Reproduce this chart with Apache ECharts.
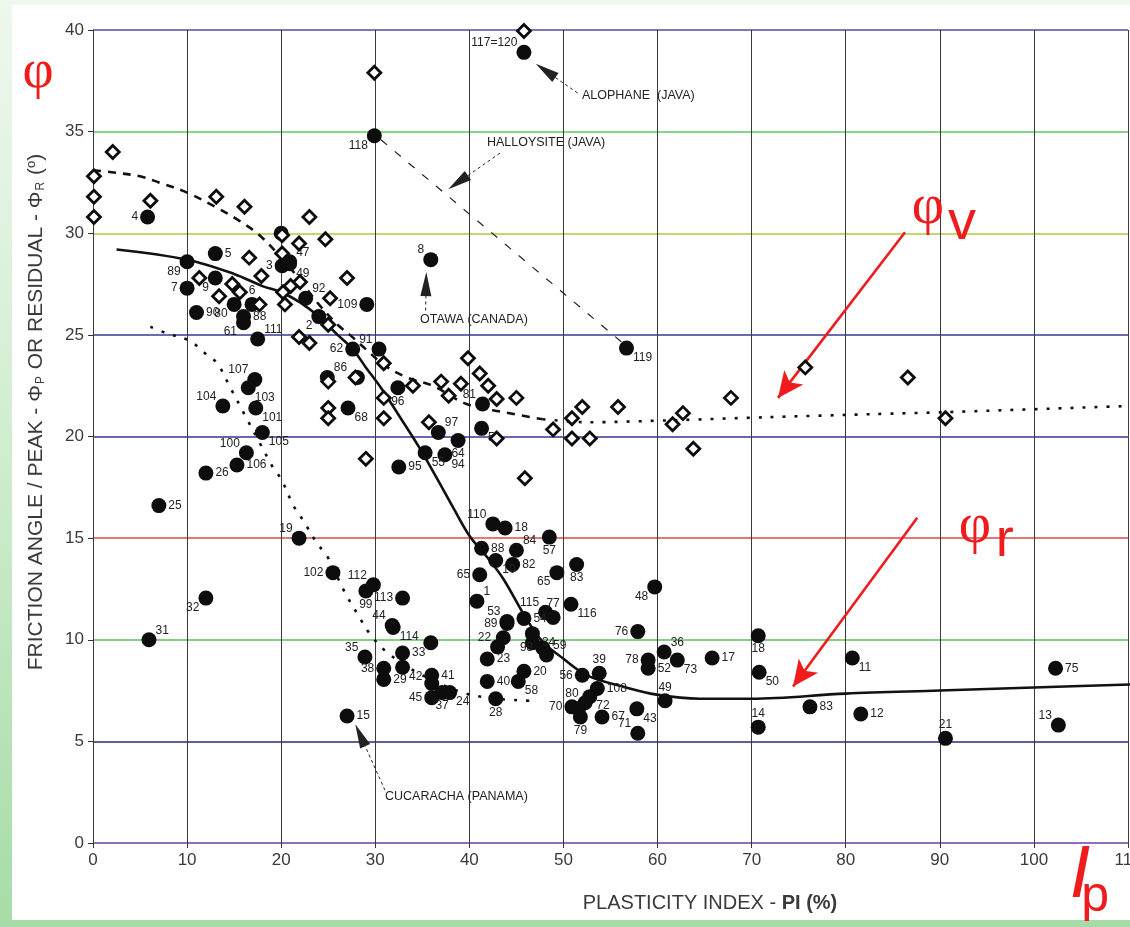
<!DOCTYPE html>
<html><head><meta charset="utf-8">
<script src="https://cdn.jsdelivr.net/npm/echarts@6/dist/echarts.min.js"></script>
<style>
html,body{margin:0;padding:0;}
#bg{position:absolute;left:0;top:0;width:1130px;height:927px;background:linear-gradient(to bottom,#eef8ee 0%,#d2eed2 45%,#a6dca6 100%);overflow:hidden;}
#panel{position:absolute;left:12px;top:5px;width:1118px;height:915px;background:#fff;}
#chart{position:absolute;left:0;top:0;width:1130px;height:927px;}
</style></head><body>
<div id="bg"><div id="panel"></div><div id="chart"></div></div>
<script>
// ---------- DATA ----------
const xTicks = [0,10,20,30,40,50,60,70,80,90,100,110];
const yTicks = [0,5,10,15,20,25,30,35,40];

// residual friction angle (filled circles): PI, phi, sample number
const resPI  = [5.8,10.0,13.0,10.0,13.0,11.0,15.0,16.9,16.0,16.0,17.5,20.1,20.9,20.0,20.9,22.6,24.0,29.1,27.6,30.4,
  17.2,16.5,13.8,17.3,18.0,24.9,28.1,27.1,16.3,15.3,12.0,7.0,21.9,25.5,29.8,29.0,32.9,12.0,5.95,31.9,
  31.8,32.9,28.9,30.9,30.9,32.9,35.9,36.0,36.0,36.0,37.1,37.9,27.0,42.5,43.8,48.5,41.3,45.0,42.8,44.6,
  41.1,49.3,51.4,40.8,48.1,48.9,50.8,45.8,44.0,44.0,46.7,46.7,43.6,43.0,41.9,47.8,48.2,45.8,45.2,41.9,
  42.8,52.0,53.8,53.6,52.8,52.3,50.9,51.6,51.8,54.1,57.8,57.9,59.7,57.9,59.0,59.0,60.7,62.1,60.8,65.8,
  70.7,70.8,70.7,76.2,80.7,81.6,90.6,102.3,102.6,45.8,29.9,35.9,56.7,41.4,41.3,38.8,36.7,35.3,37.4,32.5,32.4];
const resPhi = [30.8,28.6,29.0,27.3,27.8,26.1,26.5,26.5,25.9,25.6,24.8,28.4,28.6,30.0,28.5,26.8,25.9,26.5,24.3,24.3,
  22.8,22.4,21.5,21.4,20.2,22.9,22.9,21.4,19.2,18.6,18.2,16.6,15.0,13.3,12.7,12.4,12.05,12.05,10.0,10.6,
  10.7,9.35,9.15,8.6,8.05,8.65,9.85,8.25,7.85,7.15,7.4,7.4,6.25,15.7,15.5,15.05,14.5,14.4,13.9,13.7,
  13.2,13.3,13.7,11.9,11.35,11.1,11.75,11.05,10.8,10.9,10.3,9.85,10.1,9.65,9.05,9.6,9.25,8.45,7.95,7.95,
  7.1,8.25,8.35,7.6,7.2,6.9,6.7,6.6,6.2,6.2,6.6,5.4,12.6,10.4,9.0,8.6,9.4,9.0,7.0,9.1,
  10.2,8.4,5.7,6.7,9.1,6.35,5.15,8.6,5.8,38.9,34.8,28.7,24.35,21.6,20.4,19.8,20.2,19.2,19.1,18.5,22.4];
const resName = ['4','89','5','7','9','90','80','6','88','61','111','3','47','','49','92','2','109','62','91',
  '107','103','104','101','105','86','','68','100','106','26','25','19','102','112','99','113','32','31','114',
  '44','33','35','38','29','42','','41','','45','37','24','15','110','18','57','88','84','10','82',
  '65','65','83','1','115','77','116','54','89','53','','34','','22','23','98','59','20','58','40',
  '28','56','39','108','72','80','70','','79','67','43','71','48','76','78','52','36','73','49','17',
  '18','50','14','83','11','12','21','75','13','117=120','118','8','119','81','51','64','97','55','94','95','96'];

// peak friction angle (open diamonds): PI, phi
const peakPI  = [0.1,0.1,0.1,2.1,6.1,13.1,16.1,20.1,23.0,24.7,21.9,16.6,20.1,17.9,11.3,13.4,14.8,15.6,17.7,20.4,
  20.2,21.0,22.0,27.0,25.2,29.9,25.0,21.9,23.0,30.9,25.0,27.9,30.9,25.0,25.0,30.9,29.0,34.0,37.0,37.8,
  39.1,35.7,39.85,41.1,42.0,42.9,45.0,42.9,45.9,48.9,50.9,52.0,50.9,52.8,55.8,61.6,62.7,63.8,67.8,75.7,
  86.6,90.6,45.8];
const peakPhi = [32.8,31.8,30.8,34.0,31.6,31.8,31.3,29.9,30.8,29.7,29.5,28.8,29.0,27.9,27.8,26.9,27.5,27.1,26.5,26.5,
  27.1,27.4,27.6,27.8,26.8,37.9,25.5,24.9,24.6,23.6,22.7,22.9,21.9,21.4,20.9,20.9,18.9,22.5,22.7,22.0,
  22.6,20.7,23.85,23.1,22.5,21.85,21.9,19.9,17.95,20.35,20.9,21.45,19.9,19.9,21.45,20.6,21.15,19.4,21.9,23.4,
  22.9,20.9,39.95];

// trend curves [PI, phi]
const residualCurve = [[2.5,29.2],[10,28.7],[15,28.0],[18,27.4],[20,27.1],[22,26.6],[24,25.9],[26,25.0],[27.6,24.3],
  [29,23.4],[30.6,22.4],[32.7,20.9],[34.75,19.4],[36.6,17.9],[38.4,16.4],[40.1,15.05],[42,14.0],[43.6,13.0],
  [46.1,11.0],[47.8,9.9],[49.9,9.1],[52.5,8.25],[56.3,7.7],[59.9,7.3],[64.5,7.1],[70,7.1],[80,7.35],[90,7.5],[100,7.65],[110.5,7.8]];
const peakCurveDashed = [[0,33.1],[2,33.0],[5,32.8],[7,32.5],[10,32.0],[13,31.3],[15.6,30.6],[17.7,29.9],[20,28.8],
  [22,27.7],[24,26.5],[26,25.5],[27.3,25.0],[29.1,24.25],[31,23.5],[33.4,22.9],[36.1,22.5],[39.7,21.6],[43.6,21.2],[47.8,20.85]];
const peakCurveDotted = [[47.8,20.85],[52.5,20.7],[61.6,20.8],[71.6,20.95],[82.9,21.1],[90.7,21.2],[110,21.5]];
const lowerCurve = [[6.1,25.4],[7.7,25.1],[10.3,24.7],[11.9,24.1],[13.2,23.6],[14.6,22.4],[16.2,21.0],[17.7,19.7],
  [19.1,18.5],[20,17.9],[21.3,16.6],[22.3,15.9],[23.8,14.75],[24.9,14.1],[26.8,12.3],[28.2,11.2],[29.4,10.3],
  [31.2,9.4],[34.4,8.4],[39.3,7.4],[42.9,7.1],[46.4,7.0]];
const halloysiteLine = [[30.6,34.6],[56.3,24.6]];

// annotation texts
const noteText = ['ALOPHANE  (JAVA)','HALLOYSITE (JAVA)','OTAWA (CANADA)','CUCARACHA (PANAMA)'];
const noteAt   = [[51.97,36.79],[41.87,34.48],[34.75,25.73],[31.03,2.31]];
// black pointer arrows [from, to]
const blackArrows = [[[51.5,36.9],[48.1,38.0]],[[43.25,33.94],[38.8,32.5]],[[35.35,26.2],[35.4,27.5]],[[31.03,2.6],[28.4,5.3]]];
// red pointer arrows
const redArrows = [[[86.3,30.05],[72.8,21.9]],[[87.6,16.0],[74.4,7.7]]];

// ---------- LABEL PLACEMENT ----------
const resSide = ['l','bl','r','l','bl','r','bl','t','r','bl','tr','l','tr','','br','tr','bl','l','l','tl',
  'tl','br','tl','br','br','tr','','br','tl','r','r','r','tl','l','tl','b','l','bl','tr','br',
  'tl','r','tl','l','r','br','','r','','l','b','br','r','tl','r','b','r','tr','br','r',
  'l','bl','b','tr','tl','t','br','r','l','tl','','r','','tl','r','l','tr','r','br','r',
  'b','l','t','r','br','tl','l','','b','r','br','tl','bl','l','l','r','tr','br','t','r',
  'b','br','t','r','br','r','t','r','tl','tl','bl','tl','br','tl','br','b','tr','br','br','r','b'];
function sideCfg(s){
  if(!s) return {show:false};
  const m = {
    r:{position:'right',distance:2},
    l:{position:'left',distance:2},
    t:{position:'top',distance:0},
    b:{position:'bottom',distance:0},
    tr:{position:[14,4],align:'left',verticalAlign:'bottom'},
    tl:{position:[1,4],align:'right',verticalAlign:'bottom'},
    br:{position:[14,11],align:'left',verticalAlign:'top'},
    bl:{position:[1,11],align:'right',verticalAlign:'top'}
  };
  return Object.assign({show:true}, m[s]);
}

const resData = resPI.map((x,i)=>({name:resName[i], value:[x,resPhi[i]], label:sideCfg(resSide[i])}));
const peakData = peakPI.map((x,i)=>[x,peakPhi[i]]);
const gridColors = ['#6b3fa0','#2a2a78','#5cbf5c','#d84a4a','#35358f','#3a3a96','#b6c640','#5fc95f','#5a4a9e'];

const chart = echarts.init(document.getElementById('chart'), null, {renderer:'canvas'});
const baseFont = 'Arial, "Liberation Sans", sans-serif';
chart.setOption({
  backgroundColor:'transparent',
  animation:false,
  grid:{left:93,right:2,top:30,bottom:84,outerBoundsMode:'none',containLabel:false},
  xAxis:{type:'value',min:0,max:110,interval:10,
    axisLine:{show:false},
    axisTick:{show:true,length:5,lineStyle:{color:'#333'}},
    axisLabel:{fontSize:17,color:'#3a3a3a',margin:9,fontFamily:baseFont,hideOverlap:false,formatter:v=>xTicks.includes(v)?String(v):''},
    splitLine:{show:true,lineStyle:{color:'#3a3a3a',width:1}}},
  yAxis:{type:'value',min:0,max:40,interval:5,
    axisLine:{show:false},
    axisTick:{show:true,length:5,lineStyle:{color:'#333'}},
    axisLabel:{fontSize:17,color:'#3a3a3a',margin:9,fontFamily:baseFont,formatter:v=>yTicks.includes(v)?String(v):''},
    splitLine:{show:true,lineStyle:{color:gridColors,width:1.6}}},
  series:[
    {type:'line',data:residualCurve,smooth:0.35,showSymbol:false,symbol:'none',z:2,
      lineStyle:{color:'#111',width:2.6}},
    {type:'line',data:peakCurveDashed,smooth:0.35,showSymbol:false,symbol:'none',z:2,
      lineStyle:{color:'#111',width:2.6,type:[8,7]}},
    {type:'line',data:peakCurveDotted,smooth:0.3,showSymbol:false,symbol:'none',z:2,
      lineStyle:{color:'#111',width:2.6,type:[3,9]}},
    {type:'line',data:lowerCurve,smooth:0.35,showSymbol:false,symbol:'none',z:2,
      lineStyle:{color:'#111',width:2.6,type:[3,9]}},
    {type:'line',data:halloysiteLine,showSymbol:false,symbol:'none',z:2,
      lineStyle:{color:'#222',width:1.2,type:[8,10]},
      markLine:{silent:true,animation:false,symbol:['none','triangle'],symbolSize:[11,24],
        label:{show:false},lineStyle:{color:'#222',width:1,type:[3,3]},
        itemStyle:{color:'#111'},
        data:blackArrows.map(a=>[{coord:a[0]},{coord:a[1]}])}},
    {type:'line',data:[],showSymbol:false,symbol:'none',z:6,
      markLine:{silent:true,animation:false,symbol:['none','arrow'],symbolSize:[18,26],
        label:{show:false},lineStyle:{color:'#ee1c1c',width:2.6,type:'solid'},
        itemStyle:{color:'#ee1c1c'},
        data:redArrows.map(a=>[{coord:a[0]},{coord:a[1]}])}},
    {type:'scatter',data:resData,symbol:'circle',symbolSize:15,z:4,
      itemStyle:{color:'#0d0d0d',opacity:1},
      label:{show:true,formatter:'{b}',fontSize:12,color:'#222',fontFamily:baseFont}},
    {type:'scatter',data:peakData,symbol:'diamond',symbolSize:13,z:5,
      itemStyle:{color:'#fff',borderColor:'#0d0d0d',borderWidth:2.8,opacity:1}}
  ]
});

// ---------- TEXT ANNOTATIONS ----------
const P = (x,y)=>chart.convertToPixel({gridIndex:0},[x,y]);
const g = [];
noteText.forEach((t,i)=>{
  const p = P(noteAt[i][0],noteAt[i][1]);
  g.push({type:'text',x:p[0],y:p[1],z:10,style:{text:t,fill:'#222',font:'12.5px '+baseFont,align:'left',verticalAlign:'middle'}});
});
const serif = '"Liberation Serif","DejaVu Serif",serif';
const sans = '"Liberation Sans","DejaVu Sans",sans-serif';
const redTexts = [
  {t:'\u03C6',at:[-5.84,37.9],f:'54px '+serif},
  {t:'\u03C6',at:[88.73,31.21],f:'56px '+serif},
  {t:'v',at:[92.35,30.47],f:'56px '+sans},
  {t:'\u03C6',at:[93.73,15.52],f:'56px '+serif},
  {t:'r',at:[96.9,14.83],f:'54px '+sans},
  {t:'I',at:[104.9,-1.64],f:'italic 74px '+sans},
  {t:'p',at:[106.5,-2.66],f:'50px '+sans}
];
redTexts.forEach(r=>{
  const p = P(r.at[0],r.at[1]);
  g.push({type:'text',x:p[0],y:p[1],z:10,style:{text:r.t,font:r.f,fill:'#ee1c1c',align:'center',verticalAlign:'middle'}});
});
// axis titles
g.push({type:'text',x:36,y:412,rotation:Math.PI/2,z:10,style:{
  text:'FRICTION ANGLE / PEAK - \u03A6{s|P} OR RESIDUAL - \u03A6{s|R} ({o|o})',
  font:'21px '+baseFont,fill:'#3a3a3a',align:'center',verticalAlign:'middle',
  rich:{s:{fontSize:12,fill:'#3a3a3a',padding:[9,1,0,1]},o:{fontSize:13,fill:'#3a3a3a',padding:[0,0,9,0]}}}});
g.push({type:'text',x:710,y:903,z:10,style:{
  text:'PLASTICITY INDEX - {b|PI (%)}',font:'20px '+baseFont,fill:'#3a3a3a',align:'center',verticalAlign:'middle',
  rich:{b:{fontSize:20,fontWeight:'bold',fill:'#3a3a3a'}}}});
chart.setOption({graphic:g});
</script></body></html>
